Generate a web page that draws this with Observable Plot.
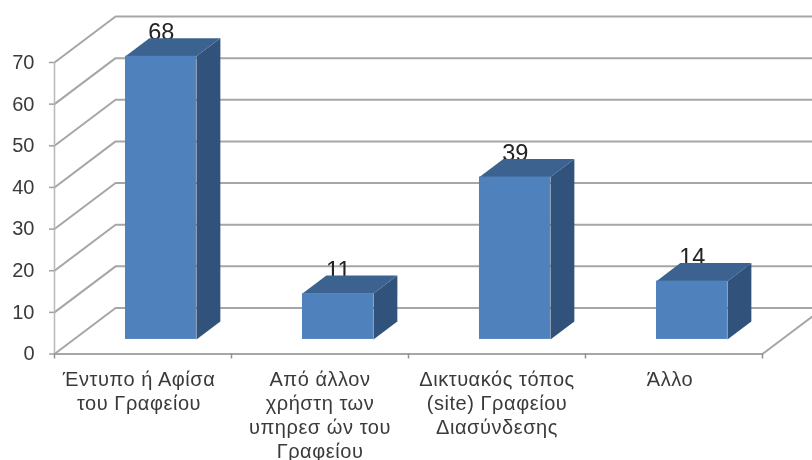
<!DOCTYPE html>
<html>
<head>
<meta charset="utf-8">
<script src="https://cdn.jsdelivr.net/npm/d3@7"></script>
<script src="https://cdn.jsdelivr.net/npm/@observablehq/plot@0.6"></script>
<style>
html,body{margin:0;padding:0;background:#fff;overflow:hidden}
svg{display:block;filter:blur(0.35px)}
.cat text{letter-spacing:0.55px}
</style>
</head>
<body>
<div id="chart"></div>
<script>
const categories = [
  "Έντυπο ή Αφίσα\nτου Γραφείου",
  "Από άλλον\nχρήστη των\nυπηρεσ ών του\nΓραφείου",
  "Δικτυακός τόπος\n(site) Γραφείου\nΔιασύνδεσης",
  "Άλλο"
];
const values = [68, 11, 39, 14];
const yTicks = [0, 10, 20, 30, 40, 50, 60, 70];
const xTicks = [0, 1, 2, 3, 4];

// 3D projection, in scale units: x = category slots, y = value units
const wallDX = 0.345, wallDY = 11.05;
const barLeft = 0.401, barWidth = 0.401;
const barBase = 3.5;
const depthDX = 0.135, depthDY = 4.33;
const labelShift = [-4, 0, 0, -4];

const bars = values.map((v, i) => ({
  i, v,
  x1: i + barLeft, x2: i + barLeft + barWidth,
  y1: barBase, y2: barBase + v
}));
const poly = (b, name, pts) => pts.map(([x, y]) => ({id: name + b.i, x, y}));
const sides = bars.flatMap(b => poly(b, "s", [
  [b.x2, b.y1], [b.x2 + depthDX, b.y1 + depthDY],
  [b.x2 + depthDX, b.y2 + depthDY], [b.x2, b.y2]
]));
const tops = bars.flatMap(b => poly(b, "t", [
  [b.x1, b.y2], [b.x2, b.y2],
  [b.x2 + depthDX, b.y2 + depthDY], [b.x1 + depthDX, b.y2 + depthDY]
]));
const grid = yTicks.flatMap(t => [
  {t, x: 0, y: t},
  {t, x: wallDX, y: t + wallDY},
  {t, x: xTicks[xTicks.length - 1] + wallDX, y: t + wallDY}
]);
const floorEdge = [
  {x: 0, y: 0},
  {x: xTicks[xTicks.length - 1], y: 0},
  {x: xTicks[xTicks.length - 1] + wallDX, y: wallDY}
];
const font = "'Liberation Sans', Arial, sans-serif";

const plot = Plot.plot({
  width: 812,
  height: 460,
  marginLeft: 54,
  marginRight: 50,
  marginTop: 62,
  marginBottom: 106.5,
  style: {fontFamily: font, background: "#fff"},
  x: {domain: [0, 4], axis: null},
  y: {domain: [0, 70], axis: null},
  marks: [
    Plot.line(grid, {x: "x", y: "y", z: "t", stroke: "#a6a6a6", strokeWidth: 2}),
    Plot.line(floorEdge, {x: "x", y: "y", stroke: "#a6a6a6", strokeWidth: 2}),
    Plot.ruleX([0], {y1: 0, y2: 70, stroke: "#b8b8b8", strokeWidth: 1.5}),
    Plot.axisX({ticks: xTicks, tickSize: 5, tickFormat: () => "", stroke: "#909090", strokeWidth: 1.5, label: null}),
    Plot.axisY({ticks: yTicks, tickSize: 5, tickPadding: 15, fontSize: 20, label: null, stroke: "#a0a0a0", strokeWidth: 1.5, color: "#3a3a3a"}),
    Plot.text(bars, {
      x: d => (d.x1 + d.x2) / 2 + 0.002,
      y: d => d.y2 + depthDY,
      text: d => String(d.v),
      fontSize: 23.5,
      fill: "#222",
      lineAnchor: "bottom",
      dy: 2
    }),
    Plot.line(sides, {x: "x", y: "y", z: "id", fill: "#31527b", stroke: "none"}),
    Plot.line(tops, {x: "x", y: "y", z: "id", fill: "#3c6290", stroke: "none"}),
    Plot.rect(bars, {x1: "x1", x2: "x2", y1: "y1", y2: "y2", fill: "#4f81bd"}),
    Plot.text(categories, {
      x: (d, i) => i + 0.5 + labelShift[i] / 177,
      y: () => 0,
      text: d => d,
      dy: 15,
      fontSize: 20,
      lineHeight: 1.2,
      lineAnchor: "top",
      textAnchor: "middle",
      fill: "#3a3a3a",
      className: "cat"
    })
  ]
});
document.getElementById("chart").appendChild(plot);
</script>
</body>
</html>
